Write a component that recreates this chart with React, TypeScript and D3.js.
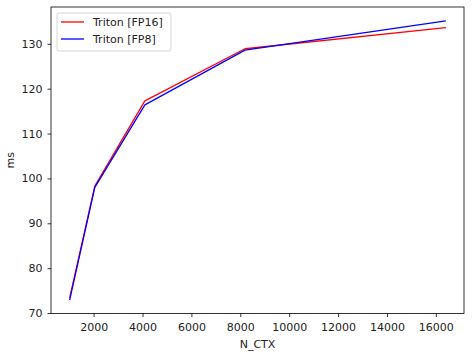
import React, { useEffect, useRef } from "react";
import * as d3 from "d3";

// Data
const nCtx = [1024, 2048, 4096, 8192, 16384];
const fp16Ms = [73.5, 98.3, 117.3, 128.9, 133.6];
const fp8Ms = [73.0, 98.0, 116.4, 128.6, 135.1];

const xTicks = [2000, 4000, 6000, 8000, 10000, 12000, 14000, 16000];
const yTicks = [70, 80, 90, 100, 110, 120, 130];

interface Series {
  name: string;
  values: number[];
  color: string;
}

const series: Series[] = [
  { name: "Triton [FP16]", values: fp16Ms, color: "#ff0000" },
  { name: "Triton [FP8]", values: fp8Ms, color: "#0000ff" },
];

const App: React.FC = () => {
  const svgRef = useRef<SVGSVGElement | null>(null);

  useEffect(() => {
    const svgWidth = 476;
    const svgHeight = 357;
    const margin = { top: 7, right: 12, bottom: 43.5, left: 51 };
    const font = "DejaVu Sans, sans-serif";
    const fontSize = "11px";

    d3.select(svgRef.current).selectAll("*").remove();

    const svg = d3
      .select(svgRef.current)
      .attr("width", svgWidth)
      .attr("height", svgHeight);

    svg.append("rect").attr("width", svgWidth).attr("height", svgHeight).attr("fill", "#fff");

    // matplotlib style 5% padding on data range
    const xMin = d3.min(nCtx) || 0;
    const xMax = d3.max(nCtx) || 0;
    const xPad = (xMax - xMin) * 0.05;
    const allY = [...fp16Ms, ...fp8Ms];
    const yMin = d3.min(allY) || 0;
    const yMax = d3.max(allY) || 0;
    const yPad = (yMax - yMin) * 0.05;

    const xScale = d3
      .scaleLinear()
      .domain([xMin - xPad, xMax + xPad])
      .range([margin.left, svgWidth - margin.right]);

    const yScale = d3
      .scaleLinear()
      .domain([yMin - yPad, yMax + yPad])
      .range([svgHeight - margin.bottom, margin.top]);

    // Axes
    const xAxis = d3
      .axisBottom(xScale)
      .tickValues(xTicks)
      .tickSize(3.5)
      .tickPadding(6)
      .tickFormat((d) => `${d}`);
    const yAxis = d3
      .axisLeft(yScale)
      .tickValues(yTicks)
      .tickSize(3.5)
      .tickPadding(5)
      .tickFormat((d) => `${d}`);

    const gx = svg
      .append("g")
      .attr("transform", `translate(0, ${svgHeight - margin.bottom})`)
      .call(xAxis);
    const gy = svg
      .append("g")
      .attr("transform", `translate(${margin.left}, 0)`)
      .call(yAxis);

    [gx, gy].forEach((g) => {
      g.select(".domain").remove();
      g.selectAll("line").attr("stroke", "#000").attr("stroke-width", 0.8);
      g.selectAll("text")
        .attr("fill", "#222")
        .style("font-family", font)
        .style("font-size", fontSize);
    });

    // Frame
    svg
      .append("rect")
      .attr("x", margin.left)
      .attr("y", margin.top)
      .attr("width", svgWidth - margin.left - margin.right)
      .attr("height", svgHeight - margin.top - margin.bottom)
      .attr("fill", "none")
      .attr("stroke", "#000")
      .attr("stroke-width", 0.8);

    // Axis labels
    svg
      .append("text")
      .attr("x", (margin.left + svgWidth - margin.right) / 2)
      .attr("y", 347.5)
      .attr("text-anchor", "middle")
      .style("font-family", font)
      .style("font-size", fontSize)
      .attr("fill", "#222")
      .text("N_CTX");

    svg
      .append("text")
      .attr("transform", `translate(14, ${(margin.top + svgHeight - margin.bottom) / 2}) rotate(-90)`)
      .attr("text-anchor", "middle")
      .style("font-family", font)
      .style("font-size", fontSize)
      .attr("fill", "#222")
      .text("ms");

    // Lines
    const line = d3
      .line<number>()
      .x((_, i) => xScale(nCtx[i]))
      .y((d) => yScale(d));

    svg
      .selectAll(".line")
      .data(series)
      .enter()
      .append("path")
      .attr("class", "line")
      .attr("d", (s) => line(s.values))
      .attr("fill", "none")
      .attr("stroke", (s) => s.color)
      .attr("stroke-width", 1.3)
      .attr("stroke-linejoin", "round")
      .attr("stroke-linecap", "square");

    // Legend
    const legend = svg.append("g").attr("transform", "translate(57, 13)");
    legend
      .append("rect")
      .attr("width", 114)
      .attr("height", 38)
      .attr("rx", 2)
      .attr("fill", "#fff")
      .attr("fill-opacity", 0.8)
      .attr("stroke", "#ccc")
      .attr("stroke-width", 0.8);

    series.forEach((s, i) => {
      const y = 9 + i * 17;
      legend
        .append("line")
        .attr("x1", 4)
        .attr("x2", 27)
        .attr("y1", y)
        .attr("y2", y)
        .attr("stroke", s.color)
        .attr("stroke-width", 1.3);
      legend
        .append("text")
        .attr("x", 36)
        .attr("y", y)
        .attr("dy", "0.35em")
        .style("font-family", font)
        .style("font-size", fontSize)
        .attr("fill", "#222")
        .text(s.name);
    });
  }, []);

  return (
    <div>
      <svg ref={svgRef} style={{ position: "absolute", left: 0, top: 0 }}></svg>
    </div>
  );
};

export default App;
